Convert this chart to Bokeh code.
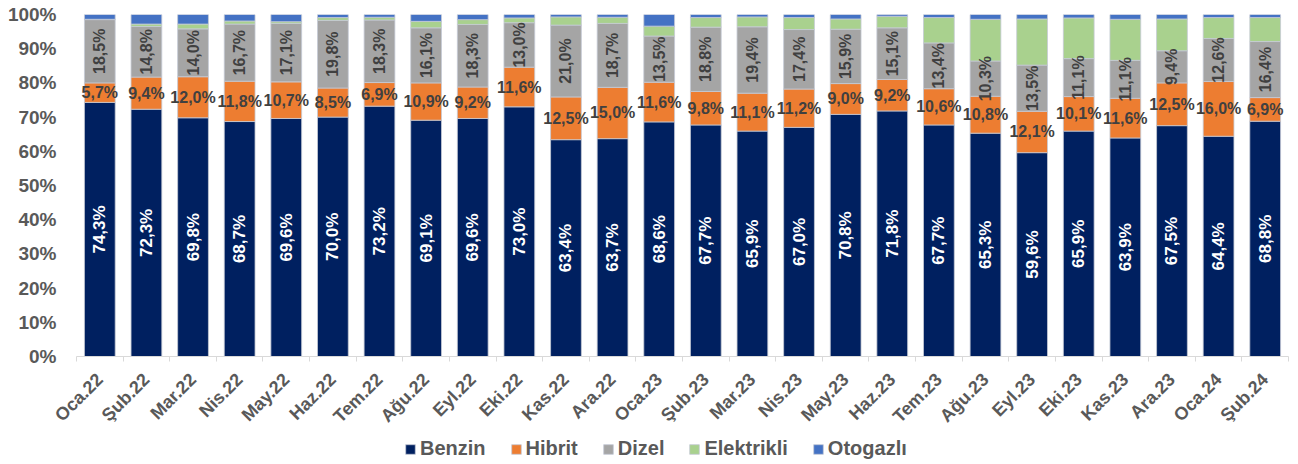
import math
from bokeh.plotting import figure
from bokeh.layouts import column
from bokeh.models import Range1d, FixedTicker, PrintfTickFormatter, ColumnDataSource, Legend, LegendItem
from bokeh.core.properties import value
from bokeh.embed import file_html
from bokeh.resources import INLINE

months = ["Oca.22", "Şub.22", "Mar.22", "Nis.22", "May.22", "Haz.22", "Tem.22", "Ağu.22",
          "Eyl.22", "Eki.22", "Kas.22", "Ara.22", "Oca.23", "Şub.23", "Mar.23", "Nis.23",
          "May.23", "Haz.23", "Tem.23", "Ağu.23", "Eyl.23", "Eki.23", "Kas.23", "Ara.23",
          "Oca.24", "Şub.24"]
benzin = [74.3, 72.3, 69.8, 68.7, 69.6, 70.0, 73.2, 69.1, 69.6, 73.0, 63.4, 63.7, 68.6,
          67.7, 65.9, 67.0, 70.8, 71.8, 67.7, 65.3, 59.6, 65.9, 63.9, 67.5, 64.4, 68.8]
hibrit = [5.7, 9.4, 12.0, 11.8, 10.7, 8.5, 6.9, 10.9, 9.2, 11.6, 12.5, 15.0, 11.6,
          9.8, 11.1, 11.2, 9.0, 9.2, 10.6, 10.8, 12.1, 10.1, 11.6, 12.5, 16.0, 6.9]
dizel = [18.5, 14.8, 14.0, 16.7, 17.1, 19.8, 18.3, 16.1, 18.3, 13.0, 21.0, 18.7, 13.5,
         18.8, 19.4, 17.4, 15.9, 15.1, 13.4, 10.3, 13.5, 11.1, 11.1, 9.4, 12.6, 16.4]
elektrikli = [0.1, 0.7, 1.4, 0.9, 0.5, 0.8, 0.8, 1.9, 1.4, 1.4, 2.4, 1.8, 2.9,
              2.8, 2.9, 3.5, 3.0, 3.4, 7.4, 12.2, 13.5, 11.9, 12.0, 9.3, 6.1, 7.0]
otogazli = [1.4, 2.8, 2.8, 1.9, 2.1, 0.9, 0.8, 2.0, 1.5, 1.0, 0.7, 0.8, 3.4,
            0.9, 0.7, 0.9, 1.3, 0.5, 0.9, 1.4, 1.3, 1.0, 1.4, 1.3, 0.9, 0.9]

series_names = ["Benzin", "Hibrit", "Dizel", "Elektrikli", "Otogazlı"]
colors = ["#002060", "#ED7D31", "#A5A5A5", "#A9D18E", "#4472C4"]
y_ticks = list(range(0, 101, 10))

FONT = "Liberation Sans"
AXIS_COLOR = "#595959"
LABEL_DARK = "#404040"
BAR_EDGE = "#C5CAD6"

n = len(months)
xs = list(range(n))
data = {"x": xs, "Benzin": benzin, "Hibrit": hibrit, "Dizel": dizel,
        "Elektrikli": elektrikli, "Otogazlı": otogazli}
source = ColumnDataSource(data)

p = figure(width=1290, height=436, output_backend="svg", toolbar_location=None,
           x_range=Range1d(-0.5, n - 0.5), y_range=Range1d(0, 100),
           min_border_left=76, min_border_right=2, min_border_top=14, min_border_bottom=80)
p.outline_line_color = None
p.grid.grid_line_color = None
p.background_fill_color = "white"

p.vbar_stack(series_names, x="x", width=0.66, source=source,
             color=colors, line_color=BAR_EDGE, line_width=0.8)

def fmt(v):
    return f"{v:.1f}".replace(".", ",") + "%"

# label positions from cumulative sums
b_mid = [b / 2 for b in benzin]
h_mid = [b + h / 2 for b, h in zip(benzin, hibrit)]
d_mid = [b + h + d / 2 for b, h, d in zip(benzin, hibrit, dizel)]

p.text(x=xs, y=b_mid, text=[fmt(v) for v in benzin], angle=math.pi / 2,
       text_align="center", text_baseline="middle", text_color="white",
       text_font=value(FONT), text_font_style="bold", text_font_size="17px")
p.text(x=xs, y=h_mid, text=[fmt(v) for v in hibrit],
       text_align="center", text_baseline="middle", text_color=LABEL_DARK,
       text_font=value(FONT), text_font_style="bold", text_font_size="16px")
p.text(x=xs, y=d_mid, text=[fmt(v) for v in dizel], angle=math.pi / 2,
       text_align="center", text_baseline="middle", text_color=LABEL_DARK,
       text_font=value(FONT), text_font_style="bold", text_font_size="16px")

# x axis
xa = p.xaxis[0]
xa.ticker = FixedTicker(ticks=xs, minor_ticks=[i - 0.5 for i in range(n + 1)])
xa.major_label_overrides = {i: m for i, m in enumerate(months)}
xa.major_label_orientation = math.pi / 4
xa.major_tick_in = 0
xa.major_tick_out = 0
xa.minor_tick_in = 0
xa.minor_tick_out = 5
xa.minor_tick_line_color = "#D9D9D9"
xa.axis_line_color = "#D9D9D9"
xa.major_label_text_font = FONT
xa.major_label_text_font_style = "bold"
xa.major_label_text_font_size = "18px"
xa.major_label_text_color = AXIS_COLOR
xa.major_label_standoff = 15

# y axis
ya = p.yaxis[0]
ya.ticker = FixedTicker(ticks=y_ticks)
ya.formatter = PrintfTickFormatter(format="%d%%")
ya.axis_line_color = None
ya.major_tick_line_color = None
ya.minor_tick_line_color = None
ya.major_tick_out = 0
ya.major_label_text_font = FONT
ya.major_label_text_font_style = "bold"
ya.major_label_text_font_size = "19px"
ya.major_label_text_color = AXIS_COLOR
ya.major_label_standoff = 20

# legend strip below the chart (same series, drawn outside its visible range)
leg = figure(width=1290, height=24, output_backend="svg", toolbar_location=None,
             x_range=Range1d(-0.5, n - 0.5), y_range=Range1d(1000, 1001),
             min_border=0)
leg.outline_line_color = None
leg.axis.visible = False
leg.grid.grid_line_color = None
leg_renderers = leg.vbar_stack(series_names, x="x", width=0.66, source=source,
                               color=colors, line_color=BAR_EDGE, line_width=0.8)

legend = Legend(items=[LegendItem(label=nm, renderers=[r]) for nm, r in zip(series_names, leg_renderers)])
legend.orientation = "horizontal"
legend.location = (328, 0)
legend.border_line_color = None
legend.background_fill_alpha = 0
legend.padding = 0
legend.margin = 0
legend.spacing = 24
legend.glyph_width = 12
legend.glyph_height = 12
legend.label_standoff = 4
legend.label_text_font = FONT
legend.label_text_font_style = "bold"
legend.label_text_font_size = "20px"
legend.label_text_color = AXIS_COLOR
leg.add_layout(legend, "center")

layout = column(p, leg, spacing=0)
open("out.html", "w").write(file_html(layout, INLINE))
